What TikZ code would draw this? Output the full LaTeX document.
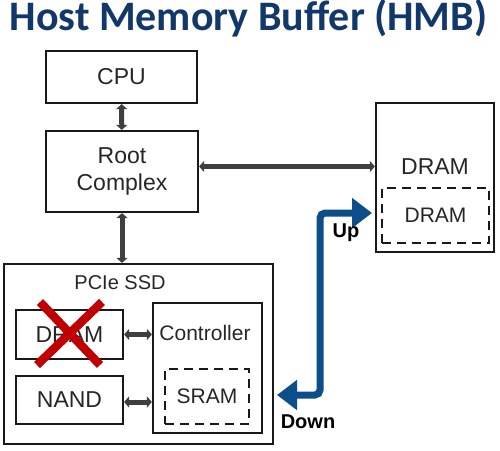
\documentclass[tikz,border=0pt]{standalone}
\usepackage{fontspec}
\setmainfont{Liberation Sans}
\newfontfamily\titlefont{Carlito}
\usetikzlibrary{arrows.meta}
\definecolor{hmbblue}{HTML}{12386B}
\definecolor{linkblue}{HTML}{0B4E8A}
\definecolor{busgray}{HTML}{3F3F3F}
\definecolor{crossred}{HTML}{C00000}
\tikzset{
  box/.style={draw=black!90, line width=2.2pt, inner sep=0pt, text=black!85,
    font=\fontsize{23}{27}\selectfont},
  dashbox/.style={box, dash pattern=on 9pt off 6pt, font=\fontsize{21}{25}\selectfont},
  bus/.style={busgray, line width=5pt, {Triangle[length=5pt,width=11pt]}-{Triangle[length=5pt,width=11pt]}},
  hmblink/.style={linkblue, line width=7pt, rounded corners=5pt,
    {Triangle[length=20pt,width=29pt]}-{Triangle[length=20pt,width=29pt]}},
  cross/.style={crossred, line width=8.5pt},
  tag/.style={text=black, font=\bfseries\fontsize{20}{22}\selectfont},
}

\begin{document}
\begin{tikzpicture}[x=1pt,y=-1pt]
                \useasboundingbox (0,0) rectangle (500,450);

                % title
                \node[anchor=base, text=hmbblue, font=\titlefont\bfseries\fontsize{42}{46}\selectfont]
                    (title) at (248.5,30.5) {Host Memory Buffer (HMB)};

                % host side
                \node[box, minimum width=151pt, minimum height=52pt] (cpu) at (121.5,77) {CPU};
                \node[box, minimum width=152pt, minimum height=81pt, align=center] (root) at (122,171.5) {Root\\Complex};
                \node[box, minimum width=118pt, minimum height=149pt] (hdram) at (435,177.5) {};
                \node[text=black!85, font=\fontsize{23}{26}\selectfont] (hdramlabel) at (435,167) {DRAM};
                \node[dashbox, minimum width=107pt, minimum height=55pt] (hmb) at (435.5,215.5) {DRAM};

                % SSD side
                \node[box, minimum width=269pt, minimum height=180pt] (ssd) at (138.5,354) {};
                \node[text=black!85, font=\fontsize{20}{22}\selectfont] (ssdlabel) at (120,283) {PCIe SSD};
                \node[box, minimum width=107pt, minimum height=49pt] (sdram) at (69.5,334.5) {DRAM};
                \node[box, minimum width=107pt, minimum height=48pt] (nand) at (69.5,400) {NAND};
                \node[box, minimum width=109pt, minimum height=130pt] (ctrl) at (207.5,368) {};
                \node[text=black!85, font=\fontsize{21}{25}\selectfont] (ctrllabel) at (205,333) {Controller};
                \node[dashbox, minimum width=84pt, minimum height=55pt] (sram) at (207,396.5) {SRAM};

                % buses
                \draw[bus] (cpu) -- (root);
                \draw[bus] (root.south) -- (root.south |- ssd.north);
                \draw[bus] ([yshift=5pt]root.east) -- ([yshift=5pt]root.east -| hdram.west);
                \draw[bus] (sdram.east) -- (sdram.east -| ctrl.west);
                \draw[bus] ([yshift=-2pt]nand.east) -- ([yshift=-2pt]nand.east -| ctrl.west);

                % no DRAM on the drive
                \draw[cross] (40,302) -- (100,365) (102,302) -- (37,365);

                % HMB path
                \coordinate (dn) at (277,395);
                \coordinate (up) at (372,213);
                \draw[hmblink] (dn) -| (320,213) -- (up);
                \node[tag] (uplabel) at (346,233) {Up};
                \node[tag] (dnlabel) at (308,422) {Down};
            \end{tikzpicture}
\end{document}
